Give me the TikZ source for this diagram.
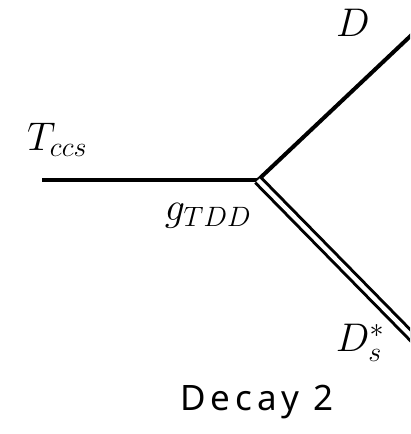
\documentclass[tikz,border=0pt]{standalone}
\usepackage{fix-cm}
\usepackage{amsmath,amssymb}
\usepackage{fontspec}
\newfontfamily\capfont[LetterSpace=14]{Noto Sans}
\usetikzlibrary{positioning}

\tikzset{
    prop/.style={line width=4pt},
    dprop/.style={double, double distance=4.5pt, line width=3pt},
    lbl/.style={inner sep=0pt, font=\fontsize{40}{48}\selectfont},
}

\begin{document}
\begin{tikzpicture}[x=1pt, y=-1pt]
    % Canvas
    \clip (0,0) rectangle (410,434);

    % Vertex and line ends
    \coordinate (v) at (258,180);
    \coordinate (tin) at (42,180);
    \coordinate (dout) at (420,27);
    \coordinate (dsout) at (420,345);

    % Lines
    \draw[prop] (tin) -- (v);
    \draw[prop] (v) -- (dout);
    \draw[dprop] (v) -- (dsout);

    % Labels
    \node[lbl] (tccs) at (57,140) {$T_{ccs}$};
    \node[lbl] (dlab) at (353,23) {$D$};
    \node[lbl] (gtdd) at (208,216) {$g_{TDD}$};
    \node[lbl] (dslab) at (360,343) {$D_s^*$};

    % Caption
    \node[inner sep=0pt, font=\capfont\fontsize{35}{40}\selectfont] (cap) at (257,402) {Decay 2};
\end{tikzpicture}
\end{document}
